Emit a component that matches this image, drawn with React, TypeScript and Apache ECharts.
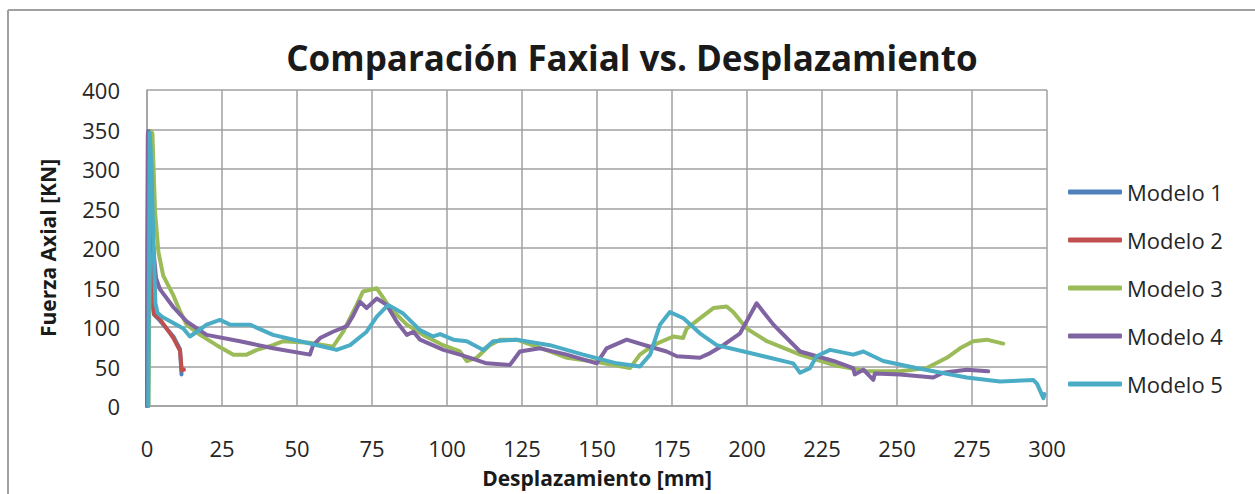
import React, { useEffect, useRef } from "react";
import * as echarts from "echarts";

const seriesNames = ["Modelo 1", "Modelo 2", "Modelo 3", "Modelo 4", "Modelo 5"];
const seriesColors = ["#4F81BD", "#C0504D", "#9BBB59", "#8064A2", "#4BACC6"];

const xTicks = { min: 0, max: 300, interval: 25 };
const yTicks = { min: 0, max: 400, interval: 50 };

const modelo1: [number, number][] = [
  [0, 0], [0.3, 345], [1.0, 250], [1.8, 130], [2.3, 116], [4.3, 108], [8.8, 88], [11, 72], [11.5, 40],
];
const modelo2: [number, number][] = [
  [0, 0], [0.3, 345], [1.2, 220], [1.9, 130], [2.4, 116], [4.3, 110], [8.8, 86], [11, 70], [11.6, 45], [12.3, 46],
];
const modelo3: [number, number][] = [
  [0.5, 0], [1.2, 348], [1.8, 345], [2.2, 300], [2.7, 245], [3.8, 195], [5.4, 165], [8.8, 140], [11, 120],
  [13.2, 103], [17.7, 90], [23.2, 77], [28.8, 65], [33.2, 65], [36.6, 71], [42, 77], [45.4, 82], [54.3, 80],
  [62, 75], [65.4, 94], [69.9, 128], [72, 145], [76.6, 149], [78.2, 140], [81, 124], [86.6, 103], [92, 90],
  [98.7, 77], [104.3, 69], [106.6, 57], [109.9, 61], [114.3, 77], [117.7, 84], [123.2, 84], [134.3, 69],
  [140, 61], [151, 55], [161, 48], [164.3, 65], [168.8, 77], [175.4, 88], [178.7, 86], [179.9, 98],
  [184.3, 111], [188.8, 124], [193.2, 126], [195.4, 119], [199.9, 98], [206.6, 82], [217.7, 65],
  [228.8, 52], [239.9, 44], [251, 44], [259.9, 48], [266.6, 61], [271, 73], [275.4, 82], [279.9, 84], [285.4, 79],
];
const modelo4: [number, number][] = [
  [0.1, 0], [0.4, 348], [0.9, 300], [1.5, 240], [2.1, 200], [3, 162], [4.3, 148], [8.8, 125], [13.2, 107],
  [19.9, 90], [31, 82], [42, 73], [54.3, 65], [55.4, 77], [57.7, 86], [62, 94], [66.6, 101], [68.8, 115],
  [71, 132], [73.2, 124], [76.6, 136], [79.9, 128], [83.2, 107], [86.6, 90], [88.8, 94], [91, 84],
  [98.8, 71], [104.3, 65], [107.7, 61], [113.2, 54], [121, 52], [124.3, 69], [131, 73], [139.9, 65],
  [149.9, 54], [153.2, 73], [159.9, 84], [167.7, 75], [173.2, 69], [176.6, 63], [184.3, 61], [187.7, 67],
  [192.1, 77], [197.7, 92], [203.2, 130], [208.8, 103], [217.7, 69], [228.8, 57], [235.4, 48], [235.9, 40],
  [238.8, 46], [242.1, 33], [242.6, 41], [251, 40], [262.1, 36], [265.4, 42], [273.2, 46], [280.4, 44],
];
const modelo5: [number, number][] = [
  [0.4, 0], [0.9, 346], [1.5, 300], [2.2, 200], [2.8, 130], [3.5, 118], [5, 113], [12.1, 98], [14.3, 88],
  [16.6, 94], [19.9, 103], [24.3, 109], [27.7, 103], [34.3, 103], [42, 90], [53.2, 80], [63.2, 71],
  [67.7, 77], [73.2, 94], [76.6, 113], [80.4, 128], [85.4, 117], [91, 96], [95.4, 88], [97.7, 91],
  [102.1, 84], [106.6, 82], [112.1, 71], [115.4, 82], [123.2, 84], [134.3, 77], [145.4, 65], [156.6, 54],
  [164.3, 50], [167.7, 65], [171, 103], [174.3, 119], [178.8, 111], [184.3, 92], [189.9, 77], [201, 67],
  [215.4, 54], [217.7, 42], [221, 48], [223.2, 63], [227.7, 71], [235.4, 65], [238.8, 69], [245.4, 57],
  [256.4, 48], [273.2, 36], [284.3, 31], [295.4, 33], [296.7, 28], [298.8, 10], [299.2, 15],
];
const seriesData = [modelo1, modelo2, modelo3, modelo4, modelo5];

const FONT = "'Open Sans', 'Liberation Sans', sans-serif";
const GRID_COLOR = "#a0a0a0";

export default function App() {
  const ref = useRef<HTMLDivElement>(null);
  useEffect(() => {
    if (!ref.current) return;
    const chart = echarts.init(ref.current, undefined, { renderer: "svg" });
    chart.setOption({
      animation: false,
      backgroundColor: "#ffffff",
      textStyle: { fontFamily: FONT },
      graphic: [
        { type: "line", shape: { x1: 8, y1: 10, x2: 1260, y2: 10 }, style: { stroke: GRID_COLOR, lineWidth: 2 } },
        { type: "line", shape: { x1: 8, y1: 10, x2: 8, y2: 500 }, style: { stroke: GRID_COLOR, lineWidth: 2 } },
        {
          type: "text",
          x: 632,
          y: 57,
          style: {
            text: "Comparación Faxial vs. Desplazamiento",
            fontFamily: FONT,
            fontWeight: "bold",
            fontSize: 35,
            fill: "#1a1a1a",
            textAlign: "center",
            textVerticalAlign: "middle",
          },
        },
      ],
      grid: { left: 147, top: 90, width: 900, height: 318, containLabel: false },
      legend: {
        orient: "vertical",
        left: 1063,
        top: 176,
        icon: "roundRect",
        itemWidth: 54,
        itemHeight: 5,
        itemGap: 26,
        textStyle: { fontFamily: FONT, fontSize: 22, color: "#262626", lineHeight: 20 },
        data: seriesNames,
      },
      xAxis: {
        type: "value",
        min: xTicks.min,
        max: xTicks.max,
        interval: xTicks.interval,
        name: "Desplazamiento [mm]",
        nameLocation: "middle",
        nameGap: 61,
        nameTextStyle: { fontFamily: FONT, fontWeight: "bold", fontSize: 21, color: "#1a1a1a", lineHeight: 22 },
        axisLine: { lineStyle: { color: GRID_COLOR, width: 1.5 } },
        axisTick: { show: false },
        axisLabel: { margin: 32, fontFamily: FONT, fontSize: 22, color: "#262626", lineHeight: 20 },
        splitLine: { show: true, lineStyle: { color: GRID_COLOR, width: 1.5 } },
      },
      yAxis: {
        type: "value",
        min: yTicks.min,
        max: yTicks.max,
        interval: yTicks.interval,
        name: "Fuerza Axial [KN]",
        nameLocation: "middle",
        nameRotate: 90,
        nameGap: 89,
        nameTextStyle: { fontFamily: FONT, fontWeight: "bold", fontSize: 21, color: "#1a1a1a" },
        axisLine: { show: true, lineStyle: { color: GRID_COLOR, width: 1.5 } },
        axisTick: { show: false },
        axisLabel: { margin: 27, fontFamily: FONT, fontSize: 22, color: "#262626" },
        splitLine: { show: true, lineStyle: { color: GRID_COLOR, width: 1.5 } },
      },
      series: seriesNames.map((name, i) => ({
        name,
        type: "line",
        data: seriesData[i],
        showSymbol: false,
        symbol: "none",
        color: seriesColors[i],
        lineStyle: { width: 4, color: seriesColors[i], cap: "round", join: "round" },
        z: 2 + i,
      })),
    });
    return () => chart.dispose();
  }, []);
  return <div ref={ref} style={{ position: "fixed", left: 0, top: 0, width: 1255, height: 494 }} />;
}
